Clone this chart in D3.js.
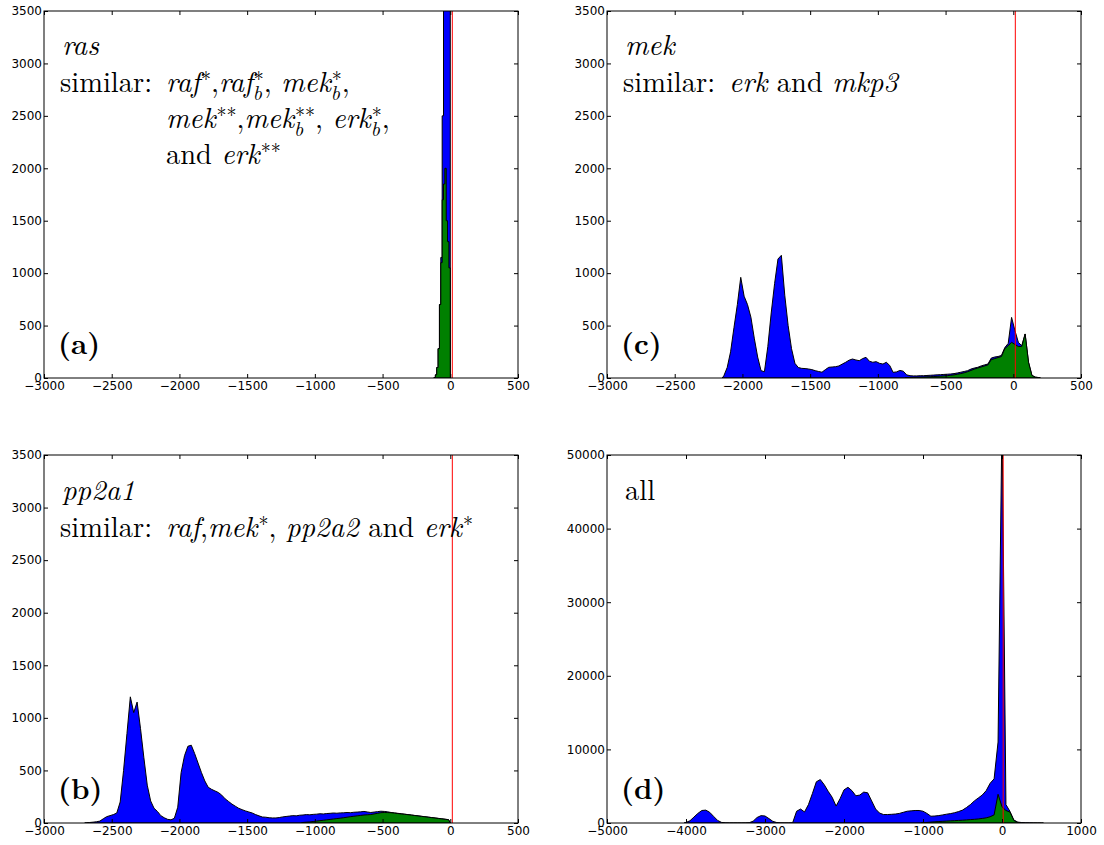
<!DOCTYPE html>
<html>
<head>
<meta charset="utf-8">
<script src="https://cdn.jsdelivr.net/npm/d3@7"></script>
<style>
  body { margin: 0; background: #fff; }
</style>
</head>
<body>
<script>
// ---- data: histogram counts ----
// panel (a) ras, bins of 10 starting at -120
var aStart = -120, aWidth = 10;
var aBlue  = [5, 30, 100, 280, 700, 1150, 2500, 4500, 6000, 6000, 5500, 5000];
var aGreen = [5, 30, 100, 280, 700, 1100, 1700, 1850, 2000, 1500, 1300, 1050];

// panel (b) pp2a1, bins of 25
var bStart = -2700, bWidth = 25;
var bBlue = [
  3, 5, 8, 12, 18, 40, 60, 70, 80, 95,               // -2700
  200, 500, 850, 1200, 1050, 1150, 900, 620, 360, 210, // -2450
  140, 110, 70, 50, 35, 30, 45, 150, 480, 640,         // -2200
  730, 740, 660, 570, 480, 400, 340, 320, 305, 290,    // -1950
  265, 230, 205, 180, 160, 140, 127, 115, 105, 95,     // -1700
  80, 68, 57, 55, 50, 48, 48, 52, 58, 62,              // -1450
  66, 70, 68, 74, 76, 80, 78, 82, 84, 88,              // -1200
  86, 90, 92, 95, 93, 96, 97, 100, 98, 102,            // -950
  104, 106, 110, 105, 100, 104, 108, 112, 110, 106,    // -700
  100, 96, 92, 88, 84, 80, 76, 72, 68, 64,             // -450
  60, 56, 52, 48, 44, 40, 36, 32                       // -200
];
var bGreenStart = -1100;
var bGreen = [
  5, 8, 10, 14, 18, 22, 26, 30, 34, 38,                // -1100
  42, 46, 50, 55, 60, 64, 68, 72, 76, 78,              // -850
  80, 86, 92, 98, 100, 99, 98, 94, 90, 86,             // -600
  83, 79, 75, 71, 67, 63, 59, 55, 51, 47,              // -350
  43, 39, 35, 31                                       // -100
];

// panel (c) mek, bins of 25
var cStart = -2150, cWidth = 25;
var cBlue = [
  20, 100, 250, 480, 700, 960, 780, 700, 580, 380,     // -2150
  200, 70, 60, 300, 620, 900, 1135, 1170, 790, 500,    // -1900
  280, 140, 100, 92, 90, 86, 80, 70, 62, 55,           // -1650
  80, 102, 105, 108, 115, 133, 150, 170, 181, 172,     // -1400
  165, 185, 197, 160, 150, 156, 140, 133, 150, 120,    // -1150
  54, 58, 72, 65, 30, 22, 20, 20, 22, 22,              // -900
  24, 26, 28, 30, 32, 34, 36, 38, 42, 48,              // -650
  55, 62, 70, 85, 95, 102, 115, 125, 133, 190,         // -400
  200, 205, 215, 290, 330, 578, 451, 340, 308, 420,    // -150
  150, 25, 8, 4                                        // 100
];
var cGreenStart = -800;
var cGreen = [
  5, 6, 7, 8, 9, 10, 11, 12, 14, 16,                   // -800
  18, 20, 22, 26, 30, 36, 42, 50, 60, 72,              // -550
  85, 95, 105, 115, 125, 175, 185, 195, 205, 280,      // -300
  310, 340, 320, 300, 300, 420, 150, 25, 8, 4          // -50
];

// panel (d) all, bins of 50
var dStart = -4025, dWidth = 50;
var dBlue = [
  80, 300, 800, 1300, 1700, 1750, 1450, 900, 350, 80,          // -4025
  20, 10, 10, 10, 10, 15, 40, 250, 750, 1000,                  // -3525
  950, 600, 220, 60, 15, 10, 10, 30, 1600, 1900,               // -3025
  1500, 2500, 4000, 5600, 5900, 5200, 4300, 3500, 2300, 3300,  // -2525
  4500, 4850, 4400, 3700, 3800, 4200, 4100, 3000, 1900, 1350,  // -2025
  1150, 1150, 1180, 1220, 1300, 1450, 1600, 1650, 1700, 1700,  // -1525
  1600, 1300, 920, 950, 1010, 1100, 1200, 1280, 1400, 1550,    // -1025
  1750, 2100, 2500, 3000, 3400, 3800, 4400, 5400, 6000, 11000, // -525
  55000, 2500, 1600, 400, 120, 60, 30, 20, 15, 10,             // -25
  5                                                            // 475
];
var dGreenStart = -1025;
var dGreen = [
  50, 80, 120, 160, 200, 230, 260, 290, 320, 350,       // -1025
  380, 420, 460, 500, 550, 620, 700, 850, 1100, 3900,   // -525
  2200, 1700, 1500, 350, 60                             // -25
];

var redAt = 15;

var xTicks3 = [-3000, -2500, -2000, -1500, -1000, -500, 0, 500];
var yTicks3 = [0, 500, 1000, 1500, 2000, 2500, 3000, 3500];
var xTicks5 = [-5000, -4000, -3000, -2000, -1000, 0, 1000];
var yTicks5 = [0, 10000, 20000, 30000, 40000, 50000];

// ---- drawing ----
var W = 1104, H = 845;
var FS = 28.5, SS = 20;
var svg = d3.select("body").append("svg").attr("width", W).attr("height", H);
svg.append("rect").attr("width", W).attr("height", H).attr("fill", "#fff");

function put(g, x, y, str, size, italic, weight) {
  var t = g.append("text").attr("x", x).attr("y", y)
    .style("font-family", "'Latin Modern Roman'")
    .style("white-space", "pre")
    .style("font-size", size + "px")
    .style("font-style", italic ? "italic" : "normal")
    .style("font-weight", weight || "normal")
    .attr("fill", "#000")
    .text(str);
  return t.node().getComputedTextLength();
}

// parts: [text, kind, extra]; kind r = roman, i = italic, sup, subsup (sub=text, sup=extra)
function mathLine(g, x, y, parts) {
  var cx = x;
  parts.forEach(function(p) {
    var s = p[0], k = p[1];
    if (k === "r") cx += put(g, cx, y, s, FS, false);
    else if (k === "i") cx += put(g, cx, y, s, FS, true);
    else if (k === "sup") cx += put(g, cx + 1, y - 6, s, SS, false) + 1;
    else if (k === "subsup") {
      var w1 = put(g, cx, y + 8, s, SS, true);
      var w2 = put(g, cx + 1, y - 6, p[2], SS, false);
      cx += Math.max(w1, w2 + 1);
    }
  });
  return cx;
}

function similar(g, x, y, parts) {
  var w = put(g, x, y, "similar:", FS, false);
  return mathLine(g, x + w + 14, y, parts);
}

// outline of a histogram: steps, or a line through the bin centres
function histPoints(start, width, counts, steps) {
  var pts = [[start, 0]];
  counts.forEach(function(c, i) {
    if (steps) {
      pts.push([start + i * width, c]);
      pts.push([start + (i + 1) * width, c]);
    } else {
      pts.push([start + (i + 0.5) * width, c]);
    }
  });
  pts.push([start + counts.length * width, 0]);
  return pts;
}

var clipId = 0;
function panel(o) {
  var g = svg.append("g");
  var x = d3.scaleLinear().domain(o.xdom).range([o.x0, o.x1]);
  var y = d3.scaleLinear().domain(o.ydom).range([o.y1, o.y0]);
  var id = "clip" + (clipId++);
  svg.append("clipPath").attr("id", id).append("rect")
    .attr("x", o.x0).attr("y", o.y0).attr("width", o.x1 - o.x0).attr("height", o.y1 - o.y0);
  var plot = g.append("g").attr("clip-path", "url(#" + id + ")");
  var line = d3.line().x(function(d) { return x(d[0]); }).y(function(d) { return y(d[1]); });

  o.series.forEach(function(s) {
    plot.append("path")
      .attr("d", line(histPoints(s.start, s.width, s.counts, o.steps)) + "Z")
      .attr("fill", s.color).attr("stroke", "#000").attr("stroke-width", 1)
      .attr("stroke-linejoin", "miter");
  });
  plot.append("line")
    .attr("x1", x(redAt)).attr("x2", x(redAt)).attr("y1", o.y0).attr("y2", o.y1)
    .attr("stroke", "#ff0000").attr("stroke-width", 1);

  var fmt = d3.format("d");
  function styleAxis(a) {
    a.attr("font-family", "'DejaVu Sans', sans-serif").attr("font-size", 12);
    a.select(".domain").remove();
    a.selectAll("text").attr("fill", "#000");
    a.selectAll("line").attr("stroke", "#000");
  }
  g.append("g").attr("transform", "translate(0," + o.y1 + ")")
    .call(d3.axisBottom(x).tickValues(o.xt).tickFormat(fmt).tickSize(-4).tickPadding(3)).call(styleAxis);
  g.append("g").attr("transform", "translate(0," + o.y0 + ")")
    .call(d3.axisTop(x).tickValues(o.xt).tickFormat("").tickSize(-4)).call(styleAxis);
  g.append("g").attr("transform", "translate(" + o.x0 + ",0)")
    .call(d3.axisLeft(y).tickValues(o.yt).tickFormat(fmt).tickSize(-4).tickPadding(2)).call(styleAxis);
  g.append("g").attr("transform", "translate(" + o.x1 + ",0)")
    .call(d3.axisRight(y).tickValues(o.yt).tickFormat("").tickSize(-4)).call(styleAxis);

  g.append("rect").attr("x", o.x0).attr("y", o.y0)
    .attr("width", o.x1 - o.x0).attr("height", o.y1 - o.y0)
    .attr("fill", "none").attr("stroke", "#000").attr("stroke-width", 1);

  put(g, o.x0 + 14, o.y1 - 24, o.tag, 29, false, "bold");
  return g;
}

var L = { x0: 44, x1: 518 }, R = { x0: 607, x1: 1081 };
var T = { y0: 11, y1: 378 }, B = { y0: 455, y1: 823 };

var ga = panel({ x0: L.x0, x1: L.x1, y0: T.y0, y1: T.y1, xdom: [-3000, 500], ydom: [0, 3500],
  xt: xTicks3, yt: yTicks3, tag: "(a)", steps: true,
  series: [{ start: aStart, width: aWidth, counts: aBlue, color: "#0000ff" },
           { start: aStart, width: aWidth, counts: aGreen, color: "#008000" }] });
var gb = panel({ x0: L.x0, x1: L.x1, y0: B.y0, y1: B.y1, xdom: [-3000, 500], ydom: [0, 3500],
  xt: xTicks3, yt: yTicks3, tag: "(b)", steps: false,
  series: [{ start: bStart, width: bWidth, counts: bBlue, color: "#0000ff" },
           { start: bGreenStart, width: bWidth, counts: bGreen, color: "#008000" }] });
var gc = panel({ x0: R.x0, x1: R.x1, y0: T.y0, y1: T.y1, xdom: [-3000, 500], ydom: [0, 3500],
  xt: xTicks3, yt: yTicks3, tag: "(c)", steps: false,
  series: [{ start: cStart, width: cWidth, counts: cBlue, color: "#0000ff" },
           { start: cGreenStart, width: cWidth, counts: cGreen, color: "#008000" }] });
var gd = panel({ x0: R.x0, x1: R.x1, y0: B.y0, y1: B.y1, xdom: [-5000, 1000], ydom: [0, 50000],
  xt: xTicks5, yt: yTicks5, tag: "(d)", steps: false,
  series: [{ start: dStart, width: dWidth, counts: dBlue, color: "#0000ff" },
           { start: dGreenStart, width: dWidth, counts: dGreen, color: "#008000" }] });

// ---- annotations ----
mathLine(ga, 62, 55, [["ras", "i"]]);
similar(ga, 60, 92, [["raf", "i"], ["*", "sup"], [",", "r"], ["raf", "i"], ["b", "subsup", "*"],
  [", ", "r"], ["mek", "i"], ["b", "subsup", "*"], [",", "r"]]);
mathLine(ga, 166, 128, [["mek", "i"], ["**", "sup"], [",", "r"], ["mek", "i"], ["b", "subsup", "**"],
  [", ", "r"], ["erk", "i"], ["b", "subsup", "*"], [",", "r"]]);
mathLine(ga, 166, 164, [["and ", "r"], ["erk", "i"], ["**", "sup"]]);

mathLine(gc, 625, 55, [["mek", "i"]]);
similar(gc, 623, 92, [["erk", "i"], [" and ", "r"], ["mkp3", "i"]]);

mathLine(gb, 62, 500, [["pp2a1", "i"]]);
similar(gb, 60, 537, [["raf", "i"], [",", "r"], ["mek", "i"], ["*", "sup"], [", ", "r"],
  ["pp2a2", "i"], [" and ", "r"], ["erk", "i"], ["*", "sup"]]);

put(gd, 625, 500, "all", FS, false);
</script>
</body>
</html>
